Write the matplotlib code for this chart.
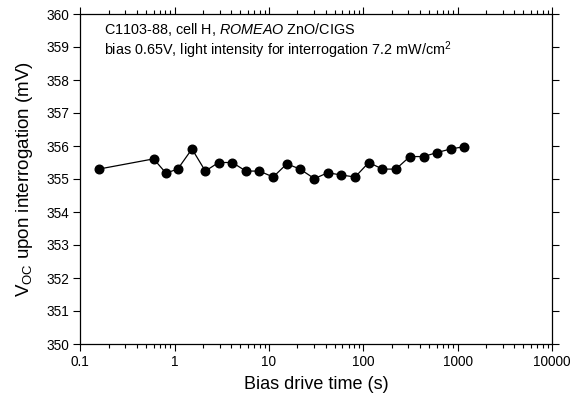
import numpy as np
import matplotlib
matplotlib.use("Agg")
import matplotlib.pyplot as plt
from matplotlib.ticker import LogLocator, NullFormatter

plt.rcParams['font.family'] = ['Liberation Sans', 'DejaVu Sans']
plt.rcParams['mathtext.fontset'] = 'custom'
plt.rcParams['mathtext.rm'] = 'Liberation Sans'
plt.rcParams['mathtext.it'] = 'Liberation Sans:italic'

# bias drive time (s) and Voc (mV)
time_s = [0.157, 0.6, 0.81, 1.08, 1.53, 2.12, 2.93, 4.09, 5.71, 7.93, 11.1,
          15.5, 21.4, 30.4, 42, 58.8, 82, 114.6, 160, 222, 312, 436, 604, 845, 1178]
voc_mv = [355.30, 355.61, 355.18, 355.30, 355.91, 355.24, 355.50, 355.50, 355.24,
          355.24, 355.06, 355.46, 355.30, 355.01, 355.19, 355.12, 355.06, 355.50,
          355.30, 355.30, 355.68, 355.68, 355.80, 355.91, 355.98]

xticks = [0.1, 1, 10, 100, 1000, 10000]
xticklabels = ['0.1', '1', '10', '100', '1000', '10000']
yticks = np.arange(350, 361, 1)

fig = plt.figure(figsize=(5.71, 4.0), dpi=100)
ax = fig.add_axes([0.1405, 0.14, 0.826, 0.825])

ax.plot(time_s, voc_mv, '-o', color='black', lw=0.9, ms=6.2)

ax.set_xscale('log')
ax.set_xlim(0.1, 10000)
ax.set_ylim(350, 360)
ax.set_xticks(xticks)
ax.set_xticklabels(xticklabels)
ax.xaxis.set_minor_locator(LogLocator(base=10, subs=np.arange(2, 10)))
ax.xaxis.set_minor_formatter(NullFormatter())
ax.set_yticks(yticks)

ax.tick_params(which='both', direction='out', top=True, right=True,
               labelsize=9.8, width=0.8, pad=3)
ax.tick_params(which='major', length=5)
ax.tick_params(which='minor', length=3)
for s in ax.spines.values():
    s.set_linewidth(0.9)

ax.set_xlabel('Bias drive time (s)', fontsize=13, labelpad=5)
ax.set_ylabel('V$_{\\mathrm{OC}}$ upon interrogation (mV)', fontsize=13.5, labelpad=8)

note = ('C1103-88, cell H, $\\mathit{ROMEAO}$ ZnO/CIGS\n'
        'bias 0.65V, light intensity for interrogation 7.2 mW/cm$^2$')
ax.text(0.051, 0.978, note, transform=ax.transAxes, fontsize=10.4,
        va='top', ha='left', linespacing=1.05)

fig.savefig('out.png', dpi=100)
